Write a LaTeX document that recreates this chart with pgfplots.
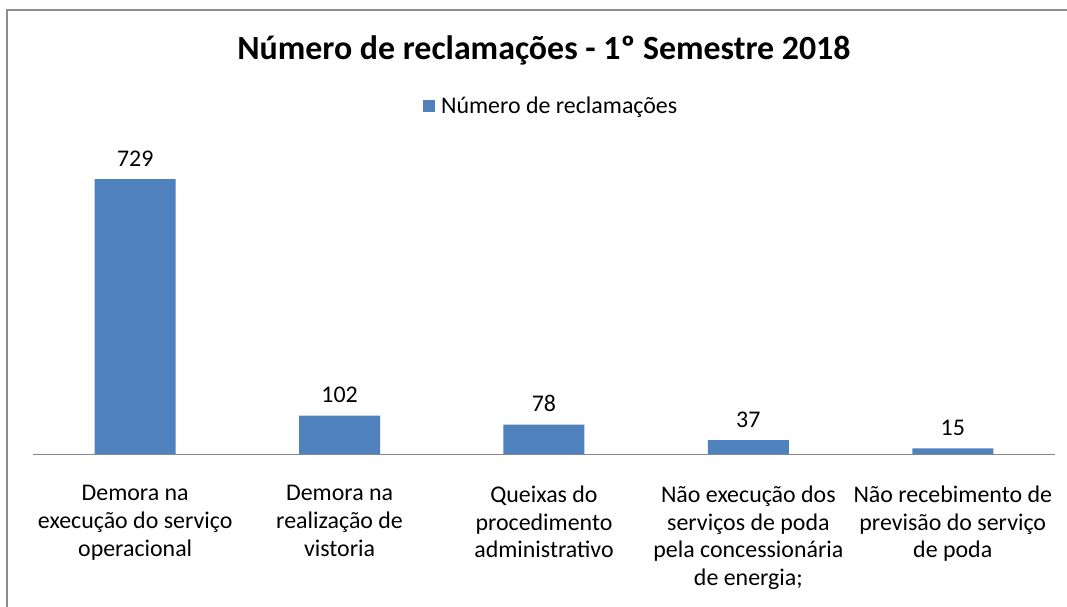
\documentclass[border=0pt]{standalone}
\usepackage{pgfplots}
\pgfplotsset{compat=1.18}
\usepackage{fontspec}
\setmainfont{Carlito}
\definecolor{barblue}{HTML}{4F81BD}
\definecolor{axisgray}{HTML}{868686}
\definecolor{framegray}{HTML}{8C8C8C}
\begin{document}
\begin{tikzpicture}
\useasboundingbox (0,0) rectangle (1067bp,-607bp);
\draw[framegray, line width=2bp] (7bp,-607bp) -- (7bp,-10bp) -- (1067bp,-10bp);
\node[font=\fontsize{34}{38}\selectfont\bfseries] at (544bp,-50bp) {Número de reclamações - 1º Semestre 2018};
\begin{axis}[
  at={(33bp,-454bp)}, anchor=south west,
  scale only axis, width=1022bp, height=301.6bp,
  ybar, bar width=81bp,
  xmin=-0.5, xmax=4.5, ymin=0, ymax=800,
  axis y line=none, axis x line*=bottom,
  x axis line style={axisgray, line width=1bp, -},
  xtick=data, major tick length=0pt,
  xticklabels={{Demora na\\execução do serviço\\operacional},
    {Demora na\\realização de\\vistoria},
    {Queixas do\\procedimento\\administrativo},
    {Não execução dos\\serviços de poda\\pela concessionária\\de energia;},
    {Não recebimento de\\previsão do serviço\\de poda}},
  xticklabel style={font=\fontsize{24}{28}\selectfont, align=center, anchor=north, yshift=-28bp},
  /pgf/number format/assume math mode=true,
  nodes near coords,
  nodes near coords style={font=\fontsize{24}{28}\selectfont, text=black, yshift=9bp},
  legend style={at={(0.507,1.154)}, anchor=center, draw=none, fill=none,
    font=\fontsize{24}{28}\selectfont},
  legend image code/.code={\fill[barblue] (0bp,-6bp) rectangle (12bp,6bp);},
  clip=false,
]
\addplot[fill=barblue, draw=none] coordinates {(0,729) (1,102) (2,78) (3,37) (4,15)};
\addlegendentry{\hspace{4bp}Número de reclamações}
\end{axis}
\end{tikzpicture}
\end{document}
